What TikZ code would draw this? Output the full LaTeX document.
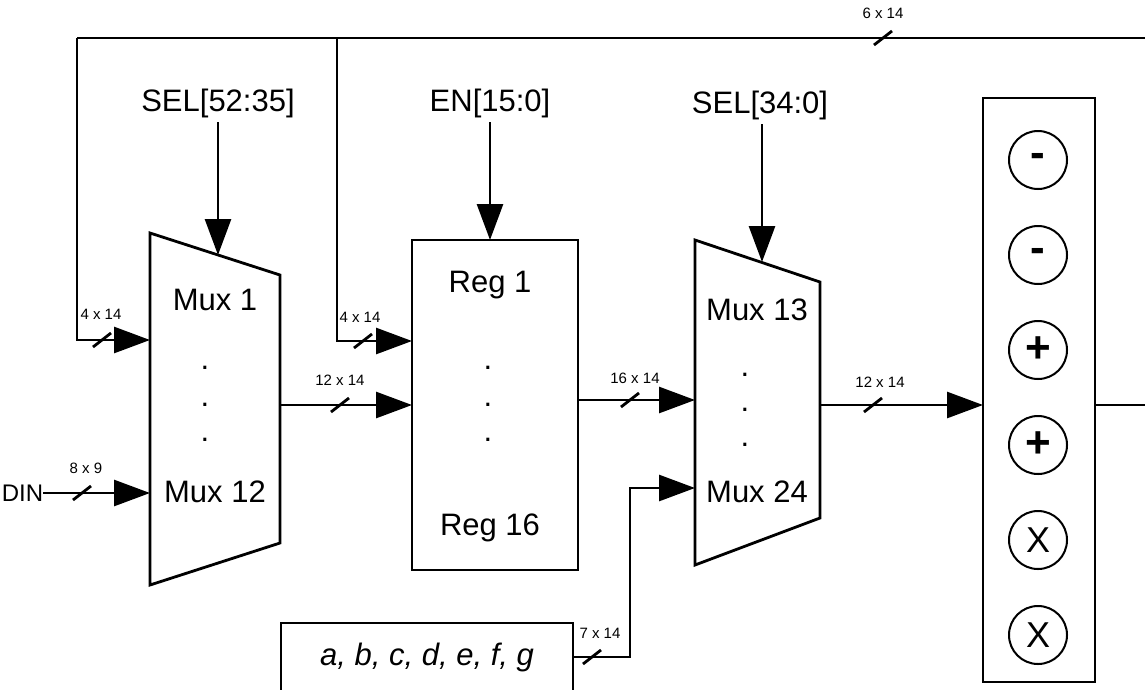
\documentclass[tikz,border=0pt]{standalone}
\usepackage{fontspec}
\setmainfont{Liberation Sans}
\usetikzlibrary{arrows.meta}
\tikzset{
  wire/.style={line width=2.8pt, line join=miter},
  arr/.style={wire, -{Triangle[length=36pt,width=26pt]}},
  shapeline/.style={line width=2.8pt, line join=miter},
  big/.style={font=\fontsize{31}{34}\selectfont, inner sep=0pt},
  small/.style={font=\fontsize{15}{17}\selectfont, inner sep=0pt},
  dotlbl/.style={font=\fontsize{31}{34}\selectfont, inner sep=0pt},
  opcircle/.style={circle, draw, line width=2pt, minimum size=58pt, inner sep=0pt},
  pics/busmark/.style={code={\draw[wire] (-9,7) -- (9,-7);}}
}
\begin{document}
\begin{tikzpicture}[x=1pt,y=-1pt]
\useasboundingbox (0,0) rectangle (1145,689);
% ---- Mux 1 .. 12
\coordinate (m1a) at (150,233);
\coordinate (m1b) at (280,275);
\coordinate (m1c) at (280,543);
\coordinate (m1d) at (150,585);
\draw[shapeline] (m1a) -- (m1b) -- (m1c) -- (m1d) -- cycle;
\node[big] (mux1) at (215,300) {Mux 1};
\node[big] (mux12) at (215,492) {Mux 12};
\node[dotlbl] (d1a) at (205,368) {.};
\node[dotlbl] (d1b) at (205,405) {.};
\node[dotlbl] (d1c) at (205,440) {.};
% ---- Registers
\node[draw, shapeline, minimum width=166pt, minimum height=330pt, inner sep=0pt] (reg) at (495,405) {};
\node[big] (reg1) at (490,285) {Reg 1};
\node[big] (reg16) at (490,528) {Reg 16};
\node[dotlbl] (d2a) at (488,368) {.};
\node[dotlbl] (d2b) at (488,405) {.};
\node[dotlbl] (d2c) at (488,440) {.};
% ---- Mux 13 .. 24
\coordinate (m2a) at (695,240);
\coordinate (m2b) at (820,282);
\coordinate (m2c) at (820,518);
\coordinate (m2d) at (695,565);
\draw[shapeline] (m2a) -- (m2b) -- (m2c) -- (m2d) -- cycle;
\node[big] (mux13) at (757,310) {Mux 13};
\node[big] (mux24) at (757,492) {Mux 24};
\node[dotlbl] (d3a) at (745,375) {.};
\node[dotlbl] (d3b) at (745,410) {.};
\node[dotlbl] (d3c) at (745,445) {.};
% ---- ALU box
\node[draw, line width=2.4pt, minimum width=112pt, minimum height=584pt, inner sep=0pt] (alu) at (1039,390) {};
\node[opcircle, font=\fontsize{44}{44}\selectfont\bfseries] (c1) at (1038,160) {-};
\node[opcircle, font=\fontsize{44}{44}\selectfont\bfseries] (c2) at (1038,255) {-};
\node[opcircle, font=\fontsize{44}{44}\selectfont\bfseries] (c3) at (1038,350) {+};
\node[opcircle, font=\fontsize{44}{44}\selectfont\bfseries] (c4) at (1038,445) {+};
\node[opcircle, font=\fontsize{36}{36}\selectfont] (c5) at (1038,540) {X};
\node[opcircle, font=\fontsize{36}{36}\selectfont] (c6) at (1038,635) {X};
% ---- constants box
\node[draw, shapeline, minimum width=292pt, minimum height=68pt, inner sep=0pt, font=\fontsize{31}{34}\selectfont\itshape] (consts) at (427,657) {a, b, c, d, e, f, g};
% ---- control labels
\node[big] (sel1) at (218,103) {SEL[52:35]};
\node[big] (en) at (490,103) {EN[15:0]};
\node[big] (sel2) at (760,105) {SEL[34:0]};
\node[font=\fontsize{24}{26}\selectfont, inner sep=0pt] (din) at (22.5,493) {DIN};
% ---- control arrows
\coordinate (sel1tip) at (218,255);
\coordinate (entip) at (490,240);
\coordinate (sel2tip) at (762,262);
\draw[arr] (218,122) coordinate (sel1s) -- (sel1tip);
\draw[arr] (490,122) coordinate (ens) -- (entip);
\draw[arr] (762,124) coordinate (sel2s) -- (sel2tip);
% ---- feedback bus
\coordinate (fbL) at (77,38);
\coordinate (fbM) at (337,38);
\coordinate (fbR) at (1145,38);
\coordinate (in1) at (150,340);
\coordinate (in2) at (412,341);
\draw[wire] (fbL) -- (fbR);
\draw[arr] (fbL) |- (in1);
\draw[arr] (fbM) |- (in2);
\pic at (883,38) {busmark};
\node[small] (l614) at (883,13) {6 x 14};
\pic at (102,340) {busmark};
\node[small] (l414a) at (101,314) {4 x 14};
\pic at (363,341) {busmark};
\node[small] (l414b) at (360,317) {4 x 14};
% ---- data arrows
\coordinate (dinin) at (150,493);
\draw[arr] (din.east) -- (dinin);
\pic at (82,493) {busmark};
\node[small] (l89) at (86,468) {8 x 9};
\coordinate (m1out) at (280,405);
\coordinate (regin) at (412,405);
\draw[arr] (m1out) -- (regin);
\pic at (340,405) {busmark};
\node[small] (l1214a) at (340,380) {12 x 14};
\coordinate (regout) at (578,400);
\coordinate (m2in) at (695,400);
\draw[arr] (regout) -- (m2in);
\pic at (630,400) {busmark};
\node[small] (l1614) at (635,378) {16 x 14};
\coordinate (m2out) at (820,405);
\coordinate (aluin) at (983,405);
\draw[arr] (m2out) -- (aluin);
\pic at (873,405) {busmark};
\node[small] (l1214b) at (880,382) {12 x 14};
\coordinate (aluout) at (1145,405);
\draw[wire] (alu.east |- aluin) -- (aluout);
\coordinate (cbend) at (630,657);
\coordinate (m2in2) at (695,488);
\draw[arr] (consts.east) -- (cbend) |- (m2in2);
\pic at (592,657) {busmark};
\node[small] (l714) at (600,633) {7 x 14};
\end{tikzpicture}
\end{document}
